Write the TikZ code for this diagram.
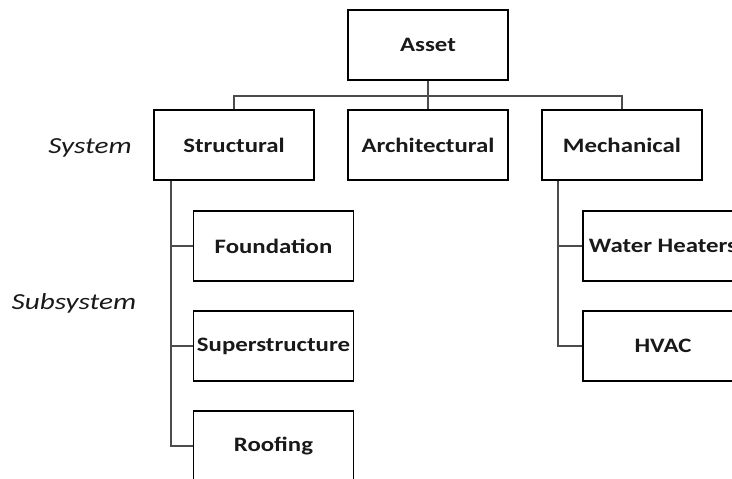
\documentclass[tikz,border=0pt]{standalone}
\usepackage{graphicx}
\usepackage{fontspec}
\setmainfont{Carlito}
\newcommand\wbt[1]{\scalebox{1.21}[1]{#1}}
\newcommand\wlt[1]{\scalebox{1.27}[1]{#1}}
\begin{document}
\begin{tikzpicture}[x=1pt,y=-1pt,
  box/.style={draw=black,line width=1.3pt,minimum width=160pt,minimum height=70pt,inner sep=0pt,font=\fontsize{20.5}{24}\selectfont\bfseries,text=black!90},
  conn/.style={draw=black!70,line width=1.5pt},
  lab/.style={font=\fontsize{23}{26}\selectfont\itshape,text=black!90}]
\useasboundingbox (0,0) rectangle (732,479);
\clip (0,0) rectangle (732,479);
\node[box] (asset) at (428,45) {\wbt{Asset}};
\node[box] (struct) at (234,145) {\wbt{Structural}};
\node[box] (arch) at (428,145) {\wbt{Architectural}};
\node[box] (mech) at (622,145) {\wbt{Mechanical}};
\node[box] (found) at (273.5,246) {\wbt{Foundation}};
\node[box] (super) at (273.5,346) {\wbt{Superstructure}};
\node[box] (roof) at (273.5,446) {\wbt{Roofing}};
\node[box] (water) at (663,246) {\wbt{Water Heaters}};
\node[box] (hvac) at (663,346) {\wbt{HVAC}};
\node[lab] (sys) at (90,148) {\wlt{System}};
\node[lab] (subsys) at (74,303) {\wlt{Subsystem}};
\coordinate (busL) at (234,96);
\draw[conn] (asset.south) -- (arch.north);
\draw[conn] (struct.north) -- (busL) -| (mech.north);
\coordinate (sv) at ([xshift=-63pt]struct.south);
\draw[conn] (sv) |- (roof.west);
\draw[conn] (sv |- found.west) -- (found.west);
\draw[conn] (sv |- super.west) -- (super.west);
\coordinate (mv) at ([xshift=-64pt]mech.south);
\draw[conn] (mv) |- (hvac.west);
\draw[conn] (mv |- water.west) -- (water.west);
\end{tikzpicture}
\end{document}
